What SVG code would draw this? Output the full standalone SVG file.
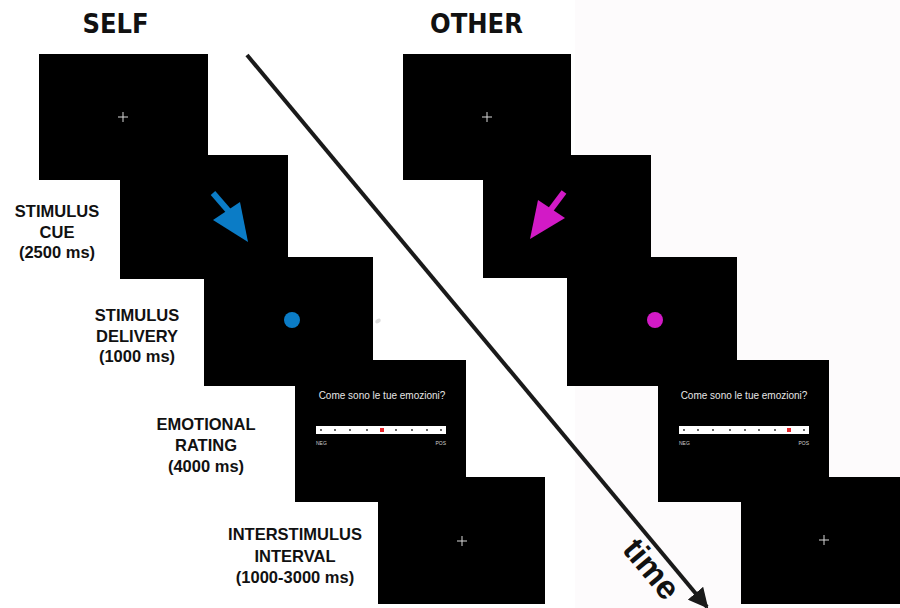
<svg xmlns="http://www.w3.org/2000/svg" width="900" height="608" viewBox="0 0 900 608">
<defs>
<style>
.scr{fill:#000}
.cross{stroke:#d8d8d8;stroke-width:1}
.title{font-family:"DejaVu Sans Condensed","DejaVu Sans",sans-serif;font-weight:bold;font-size:27px;fill:#111;text-anchor:middle}
.lbl{font-family:"Liberation Sans",Arial,sans-serif;font-weight:bold;font-size:16.5px;fill:#111;text-anchor:middle}
.q{font-family:"Liberation Sans",Arial,sans-serif;font-size:10px;fill:#e6e6e6;text-anchor:middle}
.tiny{font-family:"Liberation Sans",Arial,sans-serif;font-size:5px;fill:#cfcfcf}
.bar{fill:#fff}
.dot{fill:#222}
.mark{fill:#e8262a}
.time{font-family:"Liberation Sans",Arial,sans-serif;font-weight:bold;font-size:33px;fill:#111;text-anchor:middle}
</style>
<marker id="ah" viewBox="0 0 10 10" refX="9" refY="5" markerWidth="5" markerHeight="5" markerUnits="strokeWidth" orient="auto">
<path d="M0,0 L10,5 L0,10 z" fill="#1a1a1a"/>
</marker>
<g id="crossT"><line class="cross" x1="-5" y1="0" x2="5" y2="0"/><line class="cross" x1="0" y1="-5" x2="0" y2="5"/></g>
</defs>
<rect x="0" y="0" width="900" height="608" fill="#fff"/>
<rect x="575" y="0" width="325" height="608" fill="#fdfbfc"/>

<text class="title" x="115.5" y="33">SELF</text>
<text class="title" x="476.5" y="33">OTHER</text>

<g id="self-labels">
<text class="lbl" x="57" y="217">STIMULUS</text>
<text class="lbl" x="57" y="238">CUE</text>
<text class="lbl" x="57" y="258">(2500 ms)</text>
<text class="lbl" x="137" y="321">STIMULUS</text>
<text class="lbl" x="137" y="342">DELIVERY</text>
<text class="lbl" x="137" y="362">(1000 ms)</text>
<text class="lbl" x="206" y="430">EMOTIONAL</text>
<text class="lbl" x="206" y="451">RATING</text>
<text class="lbl" x="206" y="472">(4000 ms)</text>
<text class="lbl" x="295" y="540">INTERSTIMULUS</text>
<text class="lbl" x="295" y="562">INTERVAL</text>
<text class="lbl" x="295" y="583">(1000-3000 ms)</text>
</g>

<!-- SELF column -->
<g id="self-fixation">
<rect class="scr" x="39" y="54" width="169" height="126"/>
<use href="#crossT" x="123" y="117"/>
</g>
<g id="self-cue">
<rect class="scr" x="120" y="155" width="168" height="124"/>
<line x1="213" y1="193" x2="232" y2="215" stroke="#0b7cc6" stroke-width="6"/>
<polygon points="213,220 240,202 248,242" fill="#0b7cc6"/>
</g>
<g id="self-delivery">
<rect class="scr" x="204" y="257" width="169" height="129"/>
<circle cx="292" cy="320" r="8" fill="#0b7cc6"/>
</g>
<ellipse cx="378" cy="321" rx="3" ry="2" fill="#dcdcdc" transform="rotate(-30 378 321)"/>
<g id="self-rating">
<rect class="scr" x="295" y="360" width="171" height="142"/>
<text class="q" x="382" y="399">Come sono le tue emozioni?</text>
<rect class="bar" x="316" y="426" width="130" height="8"/>
<g class="dot">
<circle cx="321" cy="430" r="0.9"/><circle cx="335" cy="430" r="0.9"/><circle cx="350" cy="430" r="0.9"/><circle cx="367" cy="430" r="0.9"/><circle cx="396" cy="430" r="0.9"/><circle cx="412" cy="430" r="0.9"/><circle cx="427" cy="430" r="0.9"/><circle cx="441" cy="430" r="0.9"/>
</g>
<rect class="mark" x="380" y="428" width="4" height="4"/>
<text class="tiny" x="316" y="445">NEG</text>
<text class="tiny" x="446" y="445" text-anchor="end">POS</text>
</g>
<g id="self-isi">
<rect class="scr" x="378" y="477" width="167" height="127"/>
<use href="#crossT" x="462" y="541"/>
</g>

<!-- OTHER column -->
<g id="other-fixation">
<rect class="scr" x="403" y="54" width="168" height="126"/>
<use href="#crossT" x="487" y="117"/>
</g>
<g id="other-cue">
<rect class="scr" x="483" y="155" width="168" height="123"/>
<line x1="564" y1="192" x2="549" y2="212" stroke="#d21ac6" stroke-width="6"/>
<polygon points="538,200 565,218 530,239" fill="#d21ac6"/>
</g>
<g id="other-delivery">
<rect class="scr" x="567" y="257" width="170" height="129"/>
<circle cx="655" cy="320" r="8" fill="#d21ac6"/>
</g>
<g id="other-rating">
<rect class="scr" x="658" y="360" width="171" height="142"/>
<text class="q" x="744" y="399">Come sono le tue emozioni?</text>
<rect class="bar" x="679" y="426" width="130" height="8"/>
<g class="dot">
<circle cx="684" cy="430" r="0.9"/><circle cx="698" cy="430" r="0.9"/><circle cx="713" cy="430" r="0.9"/><circle cx="730" cy="430" r="0.9"/><circle cx="745" cy="430" r="0.9"/><circle cx="759" cy="430" r="0.9"/><circle cx="775" cy="430" r="0.9"/><circle cx="804" cy="430" r="0.9"/>
</g>
<rect class="mark" x="787" y="428" width="4" height="4"/>
<text class="tiny" x="679" y="445">NEG</text>
<text class="tiny" x="809" y="445" text-anchor="end">POS</text>
</g>
<g id="other-isi">
<rect class="scr" x="741" y="477" width="170" height="127"/>
<use href="#crossT" x="824" y="540"/>
</g>

<g id="connectors">
<line x1="247" y1="55" x2="707" y2="607" stroke="#1a1a1a" stroke-width="4" marker-end="url(#ah)"/>
<text class="time" transform="translate(643,576) rotate(50.2)">time</text>
</g>
</svg>
